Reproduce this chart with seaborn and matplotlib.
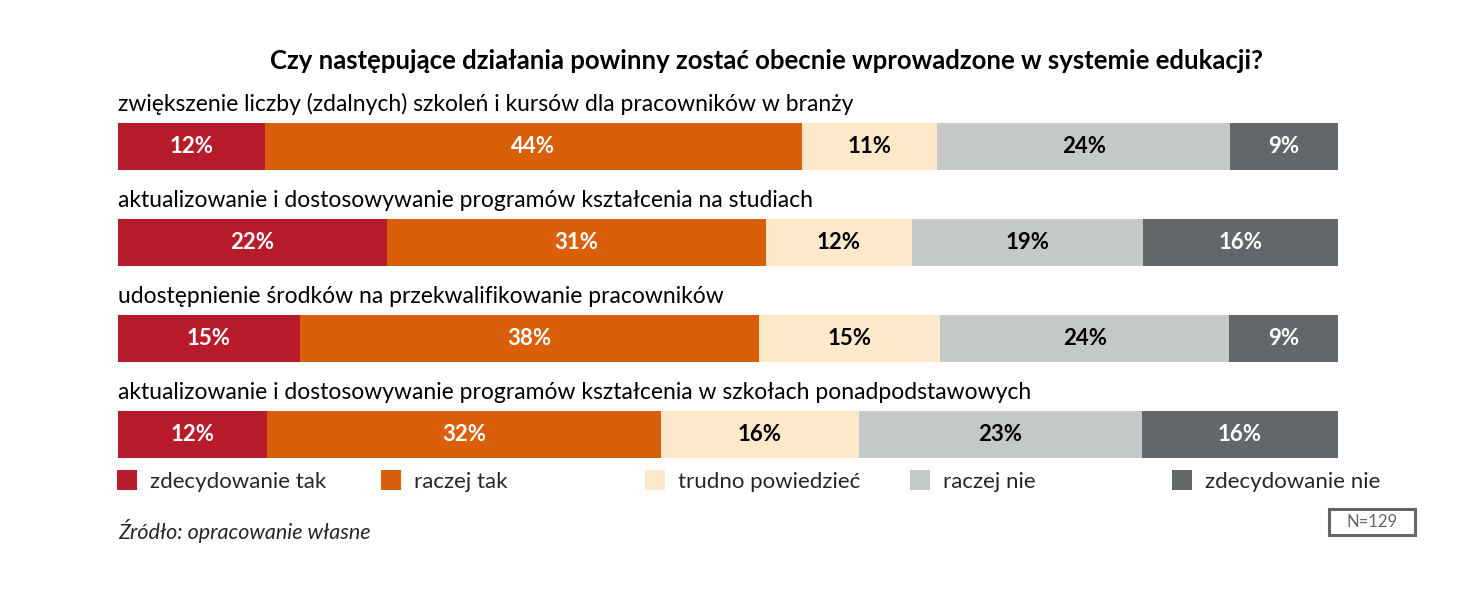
import numpy as np
import pandas as pd
import matplotlib
matplotlib.use("Agg")
import matplotlib.pyplot as plt
import seaborn as sns
from matplotlib.patches import Patch, Rectangle

sns.set_style("white")
plt.rcParams["font.family"] = ["Lato", "DejaVu Sans"]

title = "Czy następujące działania powinny zostać obecnie wprowadzone w systemie edukacji?"
questions = [
    "zwiększenie liczby (zdalnych) szkoleń i kursów dla pracowników w branży",
    "aktualizowanie i dostosowywanie programów kształcenia na studiach",
    "udostępnienie środków na przekwalifikowanie pracowników",
    "aktualizowanie i dostosowywanie programów kształcenia w szkołach ponadpodstawowych",
]
answers = ["zdecydowanie tak", "raczej tak", "trudno powiedzieć", "raczej nie", "zdecydowanie nie"]
# shares per answer, one value per question
zdecydowanie_tak = [12.05, 22.05, 14.9, 12.2]
raczej_tak = [44.0, 31.05, 37.6, 32.3]
trudno = [11.1, 12.0, 14.9, 16.2]
raczej_nie = [24.0, 18.95, 23.7, 23.2]
zdecydowanie_nie = [8.85, 15.95, 8.9, 16.1]
colors = ["#B81C2C", "#DA5F0A", "#FDE8CA", "#C4C8C7", "#636769"]
text_colors = ["white", "white", "black", "black", "white"]

values = np.array([zdecydowanie_tak, raczej_tak, trudno, raczej_nie, zdecydowanie_nie])
cum = values.cumsum(axis=0)

W, H = 1482, 604
fig = plt.figure(figsize=(W / 100, H / 100), dpi=100)
# axes placed in pixel terms
x0, x1 = 118, 1338
y_top, y_bot = 98.5, 482.5
ax = fig.add_axes([x0 / W, 1 - y_bot / H, (x1 - x0) / W, (y_bot - y_top) / H])

# stacked bars: draw cumulative totals from the last answer back to the first
for k in range(len(answers) - 1, -1, -1):
    df = pd.DataFrame({"q": questions, "v": cum[k]})
    sns.barplot(data=df, x="v", y="q", orient="h", color=colors[k],
                width=0.49, saturation=1, ax=ax, linewidth=0)

ax.set_xlim(0, 100)
ax.set_ylim(3.5, -0.5)
ax.axis("off")

for i in range(len(questions)):
    for k in range(len(answers)):
        left = cum[k, i] - values[k, i]
        ax.text(left + values[k, i] / 2, i, f"{round(values[k, i])}%",
                ha="center", va="center", color=text_colors[k],
                fontsize=16, fontweight="bold")
    ax.text(0, i - 0.44, questions[i], ha="left", va="center",
            fontsize=16.5, color="black")

fig.text(766 / W, 1 - 61 / H, title, ha="center", va="center",
         fontsize=18.5, fontweight="bold", color="black")

# one legend per entry so the entries sit at fixed, even steps
legend_x = [117, 381, 645, 910, 1172]
for c, lab, lx in zip(colors, answers, legend_x):
    leg = fig.legend([Patch(facecolor=c, edgecolor="none")], [lab],
                     loc="center left", bbox_to_anchor=(lx / W, 1 - 481 / H),
                     frameon=False, fontsize=16, handlelength=0.9,
                     handleheight=1.0, handletextpad=0.6,
                     borderaxespad=0, borderpad=0)

fig.text(118 / W, 1 - 531 / H, "Źródło: opracowanie własne", ha="left",
         va="center", fontsize=15.5, style="italic")

fig.patches.append(Rectangle((1329 / W, 1 - 535 / H), 86 / W, 26 / H,
                             transform=fig.transFigure, fill=False,
                             edgecolor="#636769", linewidth=2.2))
fig.text(1372 / W, 1 - 522 / H, "N=129", ha="center", va="center",
         fontsize=12, color="#636769")

fig.savefig("out.png", dpi=100, facecolor="white")
